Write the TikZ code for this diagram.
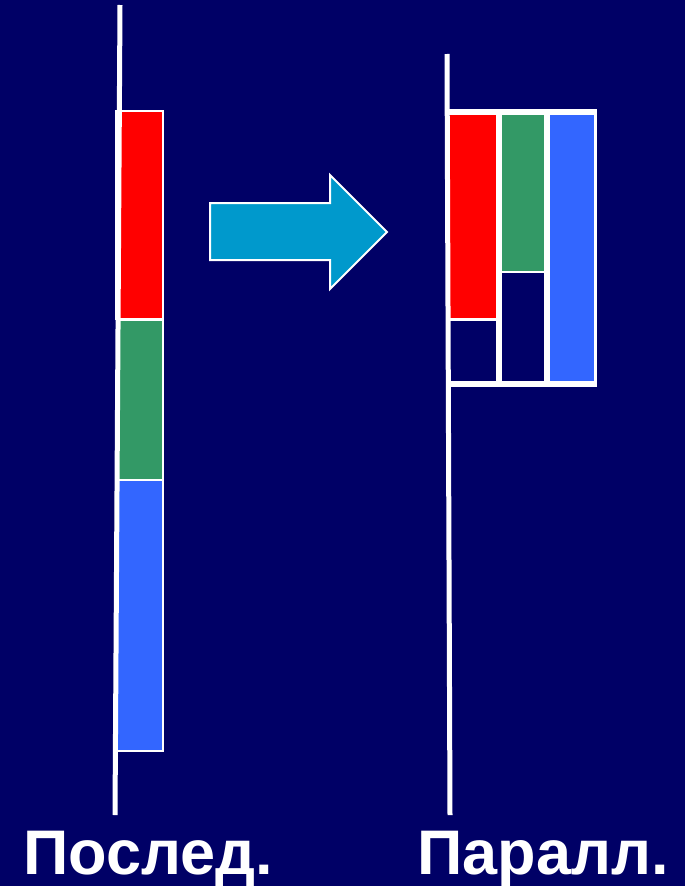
\documentclass[tikz,border=0pt]{standalone}
\usepackage{fontspec}
\setmainfont{Liberation Sans}
\definecolor{bgnavy}{RGB}{0,0,102}
\definecolor{barred}{RGB}{255,0,0}
\definecolor{bargreen}{RGB}{51,153,102}
\definecolor{barblue}{RGB}{51,102,255}
\definecolor{arrowcyan}{RGB}{0,153,204}
\tikzset{
  cell/.style={draw=white, line width=2pt},
  axis/.style={draw=white, line width=5pt},
  grid/.style={draw=white, line width=5.5pt},
  label/.style={text=white, font=\bfseries\fontsize{63}{70}\selectfont, anchor=base, inner sep=0pt}
}
\begin{document}
\begin{tikzpicture}[x=1pt, y=-1pt]
\fill[bgnavy] (0,0) rectangle (685,886);
\useasboundingbox (0,0) rectangle (685,886);
% left: sequential bars
\filldraw[cell, fill=barred] (116,111) rectangle (163,319);
\filldraw[cell, fill=bargreen] (118,320) rectangle (163,480);
\filldraw[cell, fill=barblue] (117,480) rectangle (163,751);
\coordinate (lt) at (120,5);
\coordinate (lb) at (115,815);
\draw[axis] (lt) -- (lb);
% arrow
\filldraw[draw=white, line width=2pt, fill=arrowcyan]
  (210,203) -- (330,203) -- (330,175) -- (387,232) -- (330,289) -- (330,260) -- (210,260) -- cycle;
% right: parallel bars
\fill[barred] (450,112) rectangle (499,319.5);
\fill[bargreen] (499,112) rectangle (547,272);
\fill[barblue] (547,112) rectangle (596,384);
\draw[white, line width=3pt] (450,319.5) -- (499,319.5);
\draw[white, line width=2.5pt] (499,272) -- (547,272);
\draw[grid] (499,112) -- (499,384);
\draw[grid] (547,112) -- (547,384);
\draw[white, line width=3pt] (595,112) -- (595,384);
\draw[grid] (447,112) -- (597,112);
\draw[grid] (450,384) -- (597,384);
\coordinate (rt) at (447,54);
\coordinate (rb) at (450,815);
\draw[axis] (rt) -- (rb);
% labels
\node[label] (seq) at (148.5,874) {Послед.};
\node[label] (par) at (543,874) {Паралл.};
\end{tikzpicture}
\end{document}
